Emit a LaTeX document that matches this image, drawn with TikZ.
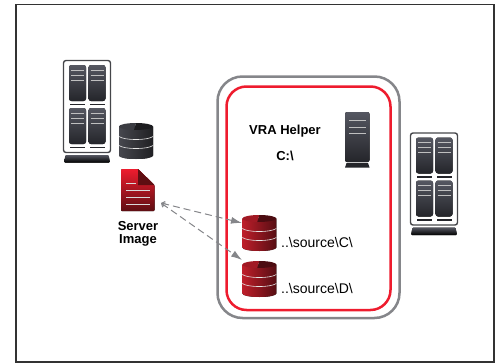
\documentclass[tikz,border=0pt]{standalone}
\usepackage{fontspec}
\setmainfont{Liberation Sans}
\usetikzlibrary{arrows.meta, positioning}
\definecolor{slatetop}{HTML}{555761}
\definecolor{slatelow}{HTML}{24252A}
\definecolor{diskgray}{HTML}{46474E}
\definecolor{rimgray}{HTML}{85868A}
\definecolor{helperred}{HTML}{EE1C2E}
\definecolor{redlight}{HTML}{BE1E2A}
\definecolor{reddark}{HTML}{5E0E12}
\tikzset{
  frameline/.style={draw=black!80, line width=1.2pt},
  linkarrow/.style={draw=rimgray, line width=1pt, dash pattern=on 7pt off 4pt, {Straight Barb[length=3pt,width=5pt]}-{Latex[length=11pt,width=7pt]}},
  boldlabel/.style={font=\fontsize{13}{13}\selectfont\bfseries, align=center, inner sep=0pt},
  pathlabel/.style={font=\fontsize{14}{14}\selectfont, anchor=base west, inner sep=0pt},
  unit/.pic={
    \fill[top color=slatetop, bottom color=slatelow, rounded corners=2.5pt] (0,0) rectangle (17,36);
    \draw[white!75!black, line width=.6pt] (2,5) -- (15,5) (2,10) -- (15,10) (2,15) -- (15,15);
    \fill[slatelow] (1,38.5) rectangle (16,40);
  },
  bigserver/.pic={
    \draw[slatelow!85!white, line width=1.4pt, rounded corners=2.5pt] (0,0) rectangle (47,92);
    \pic at (5.5,4.5) {unit};
    \pic at (25,4.5) {unit};
    \pic at (5.5,47.5) {unit};
    \pic at (25,47.5) {unit};
    \fill[top color=slatetop, bottom color=black, rounded corners=1pt] (2,94.5) -- (45,94.5) -- (46.5,102) -- (.5,102) -- cycle;
  },
  drum/.pic={
    \fill[left color=#1, right color=#1!45!black] (0,3.5) -- (34,3.5) -- (34,32.5) .. controls (34,34.5) and (26.4,36) .. (17,36) .. controls (7.6,36) and (0,34.5) .. (0,32.5) -- cycle;
    \fill[#1!85!black] (0,3.5) .. controls (0,1.6) and (7.6,0) .. (17,0) -- (15,7) .. controls (7,7) and (0,5.4) .. (0,3.5) -- cycle;
    \fill[#1!40!black] (17,0) .. controls (26.4,0) and (34,1.6) .. (34,3.5) .. controls (34,5.4) and (26.4,7) .. (15,7) -- cycle;
    \foreach \ly in {13.5,22.5}
      \draw[white!90!black, line width=.6pt] (0,\ly) .. controls (3,\ly+2) and (9,\ly+3) .. (17,\ly+3) .. controls (25,\ly+3) and (31,\ly+2) .. (34,\ly);
  },
  pics/drum/.default={redlight}
}
\begin{document}
\begin{tikzpicture}[x=1pt, y=-1pt]
\useasboundingbox (0,0) rectangle (499,364);

% outer frame
\draw[frameline] (16,362) -- (16,4.5) -- (494,4.5) -- (494,362) -- cycle;

% helper boxes
\draw[rimgray, line width=2.5pt, rounded corners=25pt] (217.5,76.5) rectangle (399.5,318);
\draw[helperred, line width=2.5pt, rounded corners=20pt] (226.5,86.5) rectangle (390.5,310);

% servers
\pic at (63.5,60.5) {bigserver};
\pic at (410.5,133) {bigserver};

\fill[top color=slatetop, bottom color=slatelow, rounded corners=2pt] (345,112) rectangle (369.5,162);
\draw[white!75!black, line width=.6pt] (349,120.5) -- (366,120.5) (349,127) -- (366,127) (349,133) -- (366,133);
\fill[slatelow] (346.5,163) -- (368,163) -- (369.5,167.5) -- (345,167.5) -- cycle;

% disks
\pic at (119,123) {drum=diskgray};
\pic at (242.3,215) {drum};
\pic at (242.3,261) {drum};

% server image sheet
\fill[top color=helperred, bottom color=reddark, rounded corners=1pt] (121,169) -- (138,169) -- (154.5,185) -- (154.5,211) -- (121,211) -- cycle;
\fill[reddark] (138,169) -- (154.5,185) -- (138,185) -- cycle;
\draw[white!85!black, line width=.7pt] (126,183) -- (136,183) (126,190) -- (150,190) (126,197) -- (150,197) (126,204) -- (150,204);

% links
\coordinate (imagePort) at (161,203);
\coordinate (sourceC) at (242,223);
\coordinate (sourceD) at (242,260);
\draw[linkarrow] (imagePort) -- (sourceC);
\draw[linkarrow] (imagePort) -- (sourceD);

% labels
\node[boldlabel] (imageLabel) at (138,234) {Server\\[.5pt]Image};
\node[boldlabel] (helperLabel) at (285,131) {VRA Helper};
\node[boldlabel] (driveLabel) at (285,156) {C:\textbackslash};
\node[pathlabel] (pathC) at (281,247.5) {..\textbackslash source\textbackslash C\textbackslash};
\node[pathlabel] (pathD) at (281,293) {..\textbackslash source\textbackslash D\textbackslash};
\end{tikzpicture}
\end{document}
